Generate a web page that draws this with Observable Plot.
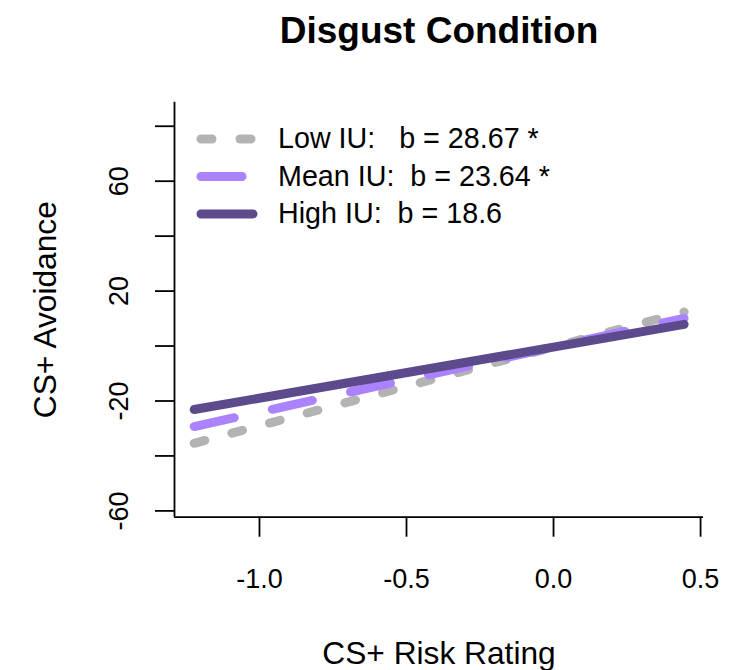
<!DOCTYPE html>
<html><head><meta charset="utf-8">
<script src="https://cdn.jsdelivr.net/npm/d3@7"></script>
<script src="https://cdn.jsdelivr.net/npm/@observablehq/plot@0.6"></script>
<style>html,body{margin:0;padding:0;background:#fff;overflow:hidden;} svg{display:block;}</style>
</head><body><div id="chart"></div>
<script>
// ---- data ----
const riskRating = [-1.222, 0.444];          // x at the two ends of each fitted line
const lowIU  = [-35.4, 12.4];
const meanIU = [-29.3, 10.1];
const highIU = [-23.1, 7.9];
const seriesNames = ["Low IU", "Mean IU", "High IU"];
const legendLabels = ["Low IU:   b = 28.67 *", "Mean IU:  b = 23.64 *", "High IU:  b = 18.6"];
const xTicks = [-1.0, -0.5, 0.0, 0.5];
const yTicks = [-60, -40, -20, 0, 20, 40, 60, 80];
const yTickLabels = [-60, -20, 20, 60];
const titleText = "Disgust Condition";
const xTitle = "CS+ Risk Rating";
const yTitle = "CS+ Avoidance";

// ---- styles ----
const FONT = "'Liberation Sans', Arial, Helvetica, sans-serif";
const seriesValues = [lowIU, meanIU, highIU];
const seriesStyle = [
  {stroke: "#B3B3B3", dash: "11,28"},
  {stroke: "#AB82FF", dash: "41,39"},
  {stroke: "#5C4A8C", dash: null}
];
const xDomain = [-1.289, 0.510];
const yDomain = [-62.3, 88.75];

const lineMarks = seriesValues.map((vals, i) => {
  const rows = riskRating.map((x, j) => ({x, y: vals[j], series: seriesNames[i]}));
  const opts = {x: "x", y: "y", stroke: seriesStyle[i].stroke, strokeWidth: 9, strokeLinecap: "round"};
  if (seriesStyle[i].dash) opts.strokeDasharray = seriesStyle[i].dash;
  return Plot.line(rows, opts);
});

const chart = Plot.plot({
  width: 751,
  height: 670,
  marginLeft: 174,
  marginRight: 48,
  marginTop: 101.7,
  marginBottom: 153.3,
  style: {fontFamily: FONT, background: "#fff", color: "#000"},
  x: {domain: xDomain},
  y: {domain: yDomain},
  marks: [
    Plot.ruleX([xDomain[0]], {stroke: "#000", strokeWidth: 1.8}),
    Plot.ruleY([yDomain[0]], {stroke: "#000", strokeWidth: 1.8}),
    Plot.axisX(xTicks, {tickSize: 20, tickPadding: 32, fontSize: 27, tickFormat: d => d.toFixed(1), label: null, strokeWidth: 1.8}),
    Plot.axisY(yTicks, {tickSize: 19, tickFormat: () => "", label: null, strokeWidth: 1.8}),
    Plot.text(yTickLabels, {y: d => d, text: d => String(d), frameAnchor: "left", dx: -47, rotate: -90,
      textAnchor: "middle", lineAnchor: "bottom", fontSize: 27}),
    Plot.text([yTitle], {text: d => d, frameAnchor: "left", dx: -119, rotate: -90, textAnchor: "middle", lineAnchor: "bottom", fontSize: 31.7}),
    Plot.text([xTitle], {text: d => d, frameAnchor: "bottom", dy: 147, textAnchor: "middle", lineAnchor: "bottom", fontSize: 31.7}),
    Plot.text([titleText], {text: d => d, frameAnchor: "top", dy: -59, textAnchor: "middle", lineAnchor: "bottom", fontSize: 37, fontWeight: "bold"}),
    ...lineMarks
  ]
});
document.getElementById("chart").appendChild(chart);

// ---- legend (inside plot, top-left) ----
const svg = d3.select(chart);
const lg = svg.append("g").attr("font-family", FONT).attr("font-size", 28.7).attr("text-anchor", "start");
legendLabels.forEach((label, i) => {
  const cy = 139 + i * 37.5;
  const ln = lg.append("line")
    .attr("x1", 201).attr("x2", 253).attr("y1", cy).attr("y2", cy)
    .attr("stroke", seriesStyle[i].stroke).attr("stroke-width", 9).attr("stroke-linecap", "round");
  if (seriesStyle[i].dash) ln.attr("stroke-dasharray", seriesStyle[i].dash);
  lg.append("text").attr("x", 278).attr("y", cy + 9).attr("fill", "#000")
    .attr("text-anchor", "start").style("white-space", "pre").text(label);
});
</script>
</body></html>
